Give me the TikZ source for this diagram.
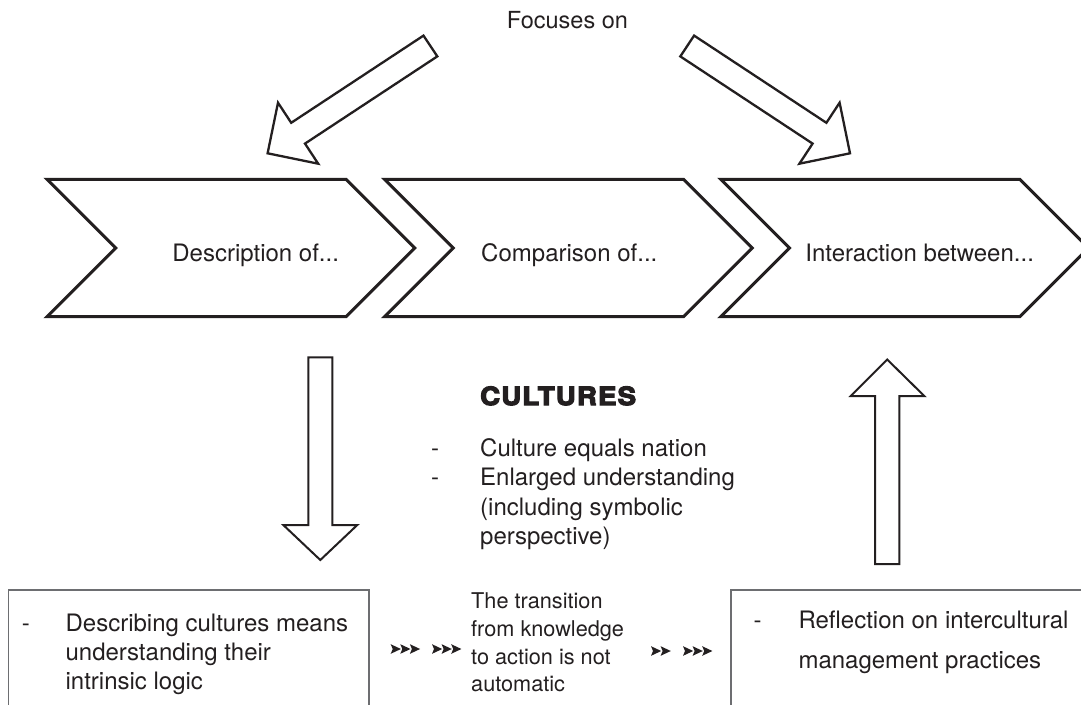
\documentclass[tikz,border=0pt]{standalone}
\usepackage{fontspec}
\setmainfont{TeX Gyre Heros}
\newfontfamily\heavyfont[FakeBold=5,FakeStretch=1.1,LetterSpace=5]{TeX Gyre Heros}
\definecolor{txt}{HTML}{231F20}
\definecolor{boxgray}{HTML}{6D6E71}
\tikzset{
  chev/.style={draw=txt, line width=3pt, line join=miter, fill=white},
  blockarrow/.style={draw=txt, line width=2.3pt, line join=miter, fill=white},
  vertarrow/.style={draw=txt, line width=2pt, line join=miter, fill=white},
  framebox/.style={draw=boxgray, line width=1.4pt},
  lbl/.style={inner sep=0pt, anchor=base west, text=txt, font=\fontsize{24}{29}\selectfont},
  smalllbl/.style={inner sep=0pt, anchor=base west, text=txt, font=\fontsize{21.7}{26}\selectfont},
  heavylbl/.style={inner sep=0pt, anchor=base west, text=txt, font=\heavyfont\bfseries\fontsize{25}{30}\selectfont},
  mini/.pic={\fill[txt] (0,-4.8) -- (10.2,0) -- (0,4.8) -- (2,0) -- cycle;}
}
\begin{document}
\begin{tikzpicture}[x=1pt,y=-1pt]
\useasboundingbox (0,0) rectangle (1081,704);
\clip (0,0) rectangle (1081,704);

% chevrons
\foreach \xo/\nm in {47/c1,384.6/c2,720.8/c3}{
  \draw[chev] (\xo,179.3) -- ({\xo+299},179.3) -- ({\xo+367.7},248) -- ({\xo+299},316.7)
     -- (\xo,316.7) -- ({\xo+68.7},248) -- cycle;
}
\node[lbl] (desc) at (172.2,261) {Description of...};
\node[lbl] (comp) at (481,261) {Comparison of...};
\node[lbl] (inter) at (805.2,261) {Interaction between...};

% focuses on
\node[lbl, font=\fontsize{23.5}{28}\selectfont] (focus) at (506.7,28.3) {Focuses on};

% diagonal block arrows
\draw[blockarrow] (423.5,35.6) -- (291.2,122.8) -- (278,102.7) -- (267.6,153.3)
  -- (318.2,163.7) -- (305,143.6) -- (437.3,56.4) -- cycle;
\draw[blockarrow] (694.1,35.6) -- (826.4,122.8) -- (839.6,102.7) -- (850,153.3)
  -- (799.4,163.7) -- (812.6,143.6) -- (680.3,56.4) -- cycle;

% vertical block arrows
\draw[vertarrow] (308.3,357.3) -- (332.3,357.3) -- (332.3,525) -- (357.3,525) -- (320.3,560)
  -- (283.3,525) -- (308.3,525) -- cycle;
\draw[vertarrow] (875,564) -- (899.3,564) -- (899.3,396) -- (924.3,396) -- (887.2,359.5)
  -- (850.7,396) -- (875,396) -- cycle;

% cultures
\node[heavylbl] (cult) at (480,405) {CULTURES};
\node[lbl] (d1) at (431,456) {-};
\node[lbl] (t1) at (480,456) {Culture equals nation};
\node[lbl] (d2) at (431,485.5) {-};
\node[lbl] (t2) at (480,485.5) {Enlarged understanding};
\node[lbl] (t3) at (480,515) {(including symbolic};
\node[lbl] (t4) at (480,544) {perspective)};

% boxes
\draw[framebox] (8.6,590) rectangle (369.1,720);
\draw[framebox] (731.1,590) rectangle (1100,720);

\node[lbl] (bl0) at (21.7,631) {-};
\node[lbl] (bl1) at (65.4,631) {Describing cultures means};
\node[lbl] (bl2) at (65.4,660) {understanding their};
\node[lbl] (bl3) at (65.4,689) {intrinsic logic};

\node[lbl] (br0) at (753.5,628) {-};
\node[lbl] (br1) at (798.3,628) {Reflection on intercultural};
\node[lbl] (br2) at (798.3,668) {management practices};

% middle text
\node[smalllbl] (m1) at (471,608) {The transition};
\node[smalllbl] (m2) at (471,636.3) {from knowledge};
\node[smalllbl] (m3) at (471,664) {to action is not};
\node[smalllbl] (m4) at (471,691.5) {automatic};

% small arrowheads
\foreach \x in {390.7,400.3,409.9,432,441.6,451.2}{ \pic at (\x,649) {mini}; }
\foreach \x in {651,660.6,683,692.6,702.2}{ \pic at (\x,651) {mini}; }
\end{tikzpicture}
\end{document}
